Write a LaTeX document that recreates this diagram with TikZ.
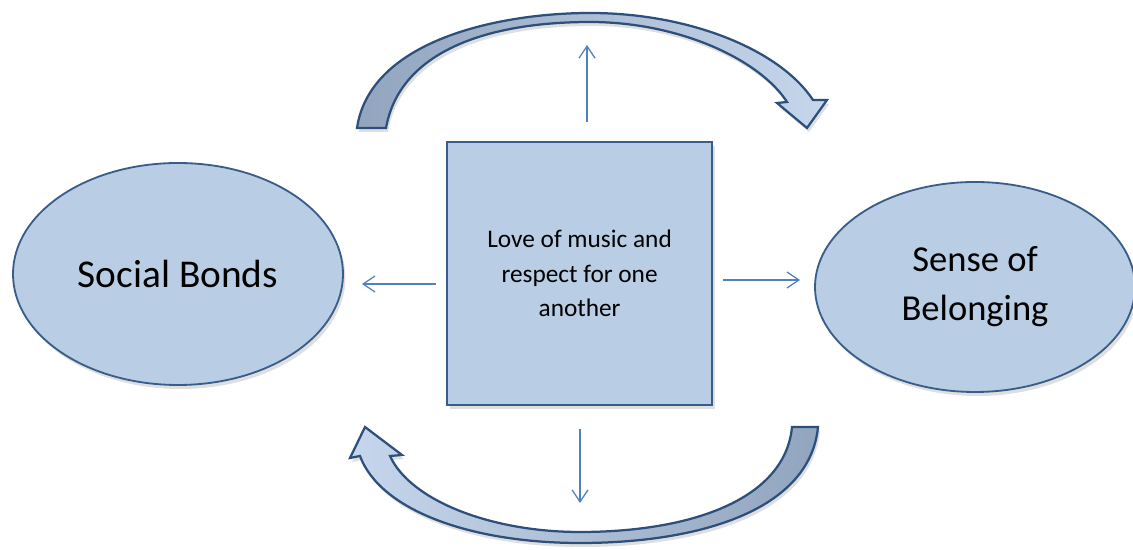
\documentclass[tikz,border=0pt]{standalone}
\usepackage{fontspec}
\setmainfont{Carlito}
\usetikzlibrary{positioning,shapes.geometric,arrows.meta,shadows}
\definecolor{paleblue}{RGB}{185,205,229}
\definecolor{edgeblue}{RGB}{56,93,138}
\definecolor{linkblue}{RGB}{79,129,189}
\definecolor{bandedge}{RGB}{44,79,124}
\definecolor{banddark}{RGB}{146,165,190}
\definecolor{bandlight}{RGB}{198,214,236}
\begin{document}
\begin{tikzpicture}[
    oval/.style={ellipse, draw=edgeblue, line width=1.3pt, fill=paleblue, align=center,
      drop shadow={opacity=0.25, shadow xshift=0.06cm, shadow yshift=-0.1cm}},
    core/.style={rectangle, draw=edgeblue, line width=1.6pt, fill=paleblue, align=center,
      inner sep=0pt, minimum width=6.625cm, minimum height=6.575cm,
      drop shadow={opacity=0.25, shadow xshift=0.06cm, shadow yshift=-0.1cm}},
    link/.style={draw=linkblue, line width=0.9pt, -{Straight Barb[length=3mm,width=4mm]}},
    band/.style={draw=bandedge, line width=1.6pt,
      drop shadow={opacity=0.25, shadow xshift=0.05cm, shadow yshift=-0.1cm}}]
    \useasboundingbox (0,0) rectangle (28.325,13.75);
    % central box and the two outcomes
    \node[core, font=\fontsize{18}{24.5}\selectfont] (love) at (14.49,6.91) {Love of music and\\respect for one\\another};
    \node[oval, minimum width=8.25cm, minimum height=5.55cm, font=\fontsize{28}{34}\selectfont] (social) at (4.45,6.9) {Social Bonds};
    \node[oval, minimum width=8cm, minimum height=5.25cm, font=\fontsize{26}{35}\selectfont] (belong) at (24.375,6.575) {Sense of\\Belonging};
    % small arrows out of the box
    \coordinate (upTip) at (14.675,12.625);
    \coordinate (downTip) at (14.5,1.175);
    \draw[link] (love.north -| upTip) ++(0,0.475) -- (upTip);
    \draw[link] (love.south -| downTip) ++(0,-0.575) -- (downTip);
    \draw[link, shorten <=0.25cm, shorten >=0.45cm] ([yshift=-0.26cm]love.west) -- ([yshift=-0.26cm]love.west -| social.east);
    \draw[link, shorten <=0.25cm, shorten >=0.35cm] ([yshift=-0.16cm]love.east) -- ([yshift=-0.16cm]love.east -| belong.west);
    % curved block arrows
    \shade[band, left color=banddark, right color=bandlight]
      (8.925,10.55) .. controls (9.25,12.75) and (12.5,13.425) .. (14.75,13.425)
      .. controls (17.25,13.425) and (19.5,12.5) .. (20.325,11.25)
      -- (20.675,11.25) -- (20.175,10.55) -- (19.425,11.175) -- (19.675,11.2)
      .. controls (19.0,12.25) and (17.0,13.2) .. (14.75,13.2)
      .. controls (12.25,13.2) and (10.0,12.5) .. (9.65,10.55) -- cycle;
    \shade[band, left color=bandlight, right color=banddark]
      (20.45,3.075) .. controls (20.25,1.0) and (17.5,0.175) .. (14.5,0.175)
      .. controls (11.75,0.175) and (9.5,1.0) .. (9.0,2.35)
      -- (8.75,2.3) -- (9.125,3.075) -- (10.05,2.375) -- (9.75,2.35)
      .. controls (10.25,1.25) and (12.25,0.45) .. (14.5,0.45)
      .. controls (17.25,0.45) and (19.625,1.25) .. (19.8,3.075) -- cycle;
\end{tikzpicture}
\end{document}
